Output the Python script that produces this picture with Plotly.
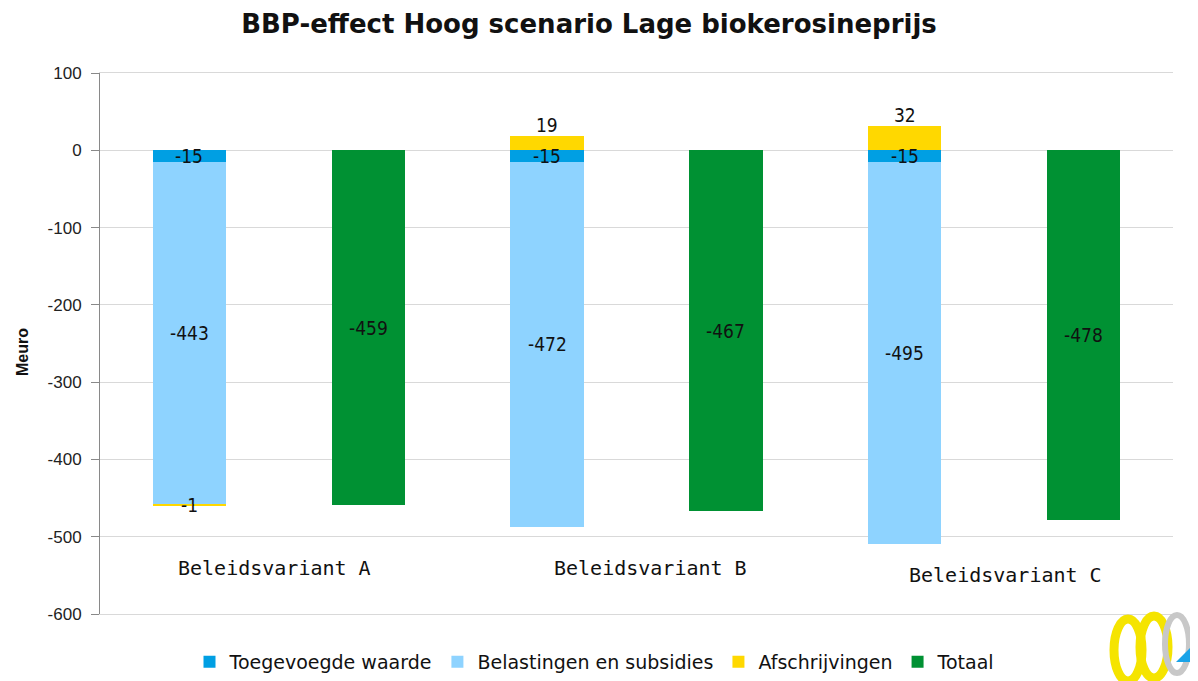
import plotly.graph_objects as go

# ---- data ----
categories = ["Beleidsvariant A", "Beleidsvariant B", "Beleidsvariant C"]
toegevoegde_waarde = [-15, -15, -15]
belastingen_subsidies = [-443, -472, -495]
afschrijvingen = [-1, 19, 32]
totaal = [-459, -467, -478]

series_names = ["Toegevoegde waarde", "Belastingen en subsidies", "Afschrijvingen", "Totaal"]
colors = ["#009FE3", "#8ED3FF", "#FFD800", "#009133"]
y_ticks = [100, 0, -100, -200, -300, -400, -500, -600]
y_ticktext = [str(v) for v in y_ticks]

# x positions: stacked bar and total bar per category
x_stack = [2 * i for i in range(len(categories))]
x_total = [2 * i + 1 for i in range(len(categories))]

BAR_W = 0.41
LABEL_FONT = dict(family="DejaVu Sans Condensed, Liberation Sans Narrow, sans-serif",
                  size=19, color="#111111")

# page body has an 8px margin -> figure is drawn at (8, 8)
W, H = 1190, 673
ML, MR, MT, MB = 92, 25, 65, 67
PW, PH = W - ML - MR, H - MT - MB


def px_to_paper(px, py):
    """page pixel -> paper coords (figure drawn at offset 8,8)"""
    return (px - 8 - ML) / PW, 1 - (py - 8 - MT) / PH


fig = go.Figure()
stack_series = [toegevoegde_waarde, belastingen_subsidies, afschrijvingen]
for name, vals, col in zip(series_names[:3], stack_series, colors[:3]):
    fig.add_trace(go.Bar(x=x_stack, y=vals, name=name, width=BAR_W,
                         marker=dict(color=col, line=dict(width=0)),
                         hoverinfo="name+y"))
fig.add_trace(go.Bar(x=x_total, y=totaal, name=series_names[3], width=BAR_W,
                     marker=dict(color=colors[3], line=dict(width=0)),
                     hoverinfo="name+y"))

annotations = []
# data labels
for i in range(len(categories)):
    t = toegevoegde_waarde[i]
    b = belastingen_subsidies[i]
    a = afschrijvingen[i]
    annotations.append(dict(x=x_stack[i], y=t / 2, text=str(t), showarrow=False,
                            font=LABEL_FONT, yanchor="middle"))
    annotations.append(dict(x=x_stack[i], y=t + b / 2, text=str(b), showarrow=False,
                            font=LABEL_FONT, yanchor="middle"))
    if a < 0:
        annotations.append(dict(x=x_stack[i], y=t + b + a / 2, text=str(a), showarrow=False,
                                font=LABEL_FONT, yanchor="middle"))
    else:
        annotations.append(dict(x=x_stack[i], y=a, text=str(a), showarrow=False,
                                font=LABEL_FONT, yanchor="bottom", yshift=-2))
    annotations.append(dict(x=x_total[i], y=totaal[i] / 2, text=str(totaal[i]), showarrow=False,
                            font=LABEL_FONT, yanchor="middle"))

# category labels placed inside the plot area
cat_xshift = [-4, 14, 11]
cat_y = [-540, -540, -549]
for i, c in enumerate(categories):
    annotations.append(dict(x=x_stack[i] + 0.5, y=cat_y[i], text=c, showarrow=False,
                            xshift=cat_xshift[i],
                            font=dict(family="DejaVu Sans Mono, monospace", size=20, color="#111111"),
                            yanchor="middle"))

# y-axis title
mx, my = px_to_paper(22, 352)
annotations.append(dict(xref="paper", yref="paper", x=mx, y=my,
                        text="<b>Meuro</b>", textangle=-90, showarrow=False,
                        xanchor="center", yanchor="middle",
                        font=dict(family="Liberation Sans, Arial, sans-serif", size=16, color="#111111")))

# decorative logo (bottom right)
shapes = []
for (cx, cy, rx, ry, col, lw) in [(1128, 650, 14, 31, "#F5E400", 9),
                                  (1154, 647, 14, 31, "#F5E400", 9),
                                  (1177, 644, 12, 29, "#C8C8C8", 6)]:
    x0, y0 = px_to_paper(cx - rx, cy + ry)
    x1, y1 = px_to_paper(cx + rx, cy - ry)
    shapes.append(dict(type="circle", xref="paper", yref="paper", x0=x0, y0=y0, x1=x1, y1=y1,
                       line=dict(color=col, width=lw), fillcolor="rgba(0,0,0,0)", layer="above"))
tA = px_to_paper(1176, 662)
tB = px_to_paper(1198, 662)
tC = px_to_paper(1198, 640)
shapes.append(dict(type="path", xref="paper", yref="paper",
                   path=f"M {tA[0]} {tA[1]} L {tB[0]} {tB[1]} L {tC[0]} {tC[1]} Z",
                   fillcolor="#1AA3E8", line=dict(width=0), layer="above"))

fig.update_layout(
    width=W, height=H,
    barmode="relative",
    bargap=0,
    plot_bgcolor="white",
    paper_bgcolor="white",
    margin=dict(l=ML, r=MR, t=MT, b=MB, autoexpand=False),
    title=dict(text="<b>BBP-effect Hoog scenario Lage biokerosineprijs</b>",
               x=(589 - 8) / W, xanchor="center", xref="container",
               y=1 - (24 - 8) / H, yanchor="middle", yref="container",
               font=dict(family="DejaVu Sans, sans-serif", size=26, color="#111111")),
    xaxis=dict(range=[-0.5, 2 * len(categories) - 0.5], showticklabels=False,
               showgrid=False, zeroline=False, showline=True, linecolor="#D9D9D9",
               mirror=True, ticks=""),
    yaxis=dict(range=[-600, 100], tickvals=y_ticks, ticktext=y_ticktext,
               showgrid=True, gridcolor="#D9D9D9",
               gridwidth=1, zeroline=False, showline=True, linecolor="#898989", linewidth=1,
               ticks="outside", ticklen=8, tickcolor="#898989", automargin=False,
               ticklabelstandoff=6,
               tickfont=dict(family="Liberation Sans, Arial, sans-serif", size=17, color="#222222")),
    legend=dict(orientation="h", x=(595 - 8) / W, xanchor="center", xref="container",
                y=(H - (662 - 8)) / H, yanchor="middle", yref="container",
                font=dict(family="DejaVu Sans, sans-serif", size=19, color="#111111"),
                traceorder="normal", itemwidth=30),
    annotations=annotations,
    shapes=shapes,
    showlegend=True,
)

fig.write_html("out.html")
